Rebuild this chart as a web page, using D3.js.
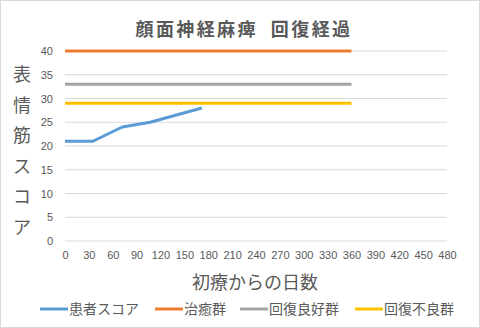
<!DOCTYPE html>
<html><head><meta charset="utf-8">
<script src="https://cdn.jsdelivr.net/npm/d3@7"></script>
<style>body{margin:0;background:#fff}svg{display:block}</style>
</head><body>
<script>
const title = "顔面神経麻痺  回復経過";
const xTitle = "初療からの日数";
const yTitle = "表情筋スコア";
const patientDays = [0, 35, 72, 107, 172];
const patientScores = [21, 21, 24, 25, 28];
const refDays = [0, 360];
const cureScores = [40, 40];
const goodScores = [33, 33];
const poorScores = [29, 29];
const seriesNames = ["患者スコア", "治癒群", "回復良好群", "回復不良群"];
const seriesColors = ["#5b9bd5", "#ed7d31", "#a5a5a5", "#ffc000"];
const xTicks = d3.range(0, 481, 30);
const yTicks = d3.range(0, 41, 5);

const W = 480, H = 328;
const svg = d3.select("body").append("svg").attr("width", W).attr("height", H);
svg.append("rect").attr("x",0.5).attr("y",0.5).attr("width",W-1).attr("height",H-1)
  .attr("fill","#fff").attr("stroke","#d9d9d9");

const x = d3.scaleLinear().domain([0,480]).range([65,447]);
const y = d3.scaleLinear().domain([0,40]).range([241,51]);
const font = "'Noto Sans CJK JP', 'Noto Sans', sans-serif";
const textCol = "#595959";

// grid
svg.append("g").selectAll("line").data(yTicks).join("line")
  .attr("x1", x(0)).attr("x2", x(480)).attr("y1", d=>y(d)).attr("y2", d=>y(d))
  .attr("stroke", "#d9d9d9").attr("stroke-width", 1);

// y axis labels
const yAxis = svg.append("g").attr("transform", `translate(${x(0)-8},0)`)
  .call(d3.axisLeft(y).tickValues(yTicks).tickSize(0).tickPadding(4));
yAxis.select(".domain").remove();
yAxis.selectAll("text").attr("font-family", "Liberation Sans, Arial, sans-serif").attr("font-size", 11).attr("fill", textCol);

// x axis labels
const xAxis = svg.append("g").attr("transform", `translate(0,${y(0)+6})`)
  .call(d3.axisBottom(x).tickValues(xTicks).tickSize(0).tickPadding(4));
xAxis.select(".domain").remove();
xAxis.selectAll("text").attr("font-family", "Liberation Sans, Arial, sans-serif").attr("font-size", 11).attr("fill", textCol);

// lines
const line = d3.line().x(d=>x(d[0])).y(d=>y(d[1]));
const series = [
  [patientDays, patientScores],
  [refDays, cureScores],
  [refDays, goodScores],
  [refDays, poorScores]
];
[1,2,3,0].forEach(i => {
  const [xs, ys] = series[i];
  svg.append("path").datum(xs.map((d,j)=>[d, ys[j]]))
    .attr("d", line).attr("fill","none").attr("stroke", seriesColors[i])
    .attr("stroke-width", 3).attr("stroke-linejoin","round");
});

// title
svg.append("text").attr("x", 244).attr("y", 36).attr("text-anchor","middle")
  .attr("font-family", font).attr("font-size", 18).attr("font-weight","bold")
  .attr("letter-spacing", "2.4px").style("white-space","pre")
  .attr("fill", textCol).text(title);

// y title stacked
const yChars = Array.from(yTitle);
svg.append("g").selectAll("text").data(yChars).join("text")
  .attr("x", 22).attr("y", (d,i)=> 81 + i*30.5).attr("text-anchor","middle")
  .attr("font-family", font).attr("font-size", 18).attr("fill", textCol).text(d=>d);

// x title
svg.append("text").attr("x", 255).attr("y", 289).attr("text-anchor","middle")
  .attr("font-family", font).attr("font-size", 18).attr("fill", textCol).text(xTitle);

// legend
const legendX = [40, 155, 240, 355];
seriesNames.forEach((n,i)=>{
  const g = svg.append("g").attr("transform", `translate(${legendX[i]},309)`);
  g.append("line").attr("x1",0).attr("x2",28).attr("y1",0).attr("y2",0)
    .attr("stroke", seriesColors[i]).attr("stroke-width",3);
  g.append("text").attr("x",29).attr("y",5).attr("font-family", font)
    .attr("font-size", 14).attr("fill", textCol).text(n);
});
</script>
</body></html>
